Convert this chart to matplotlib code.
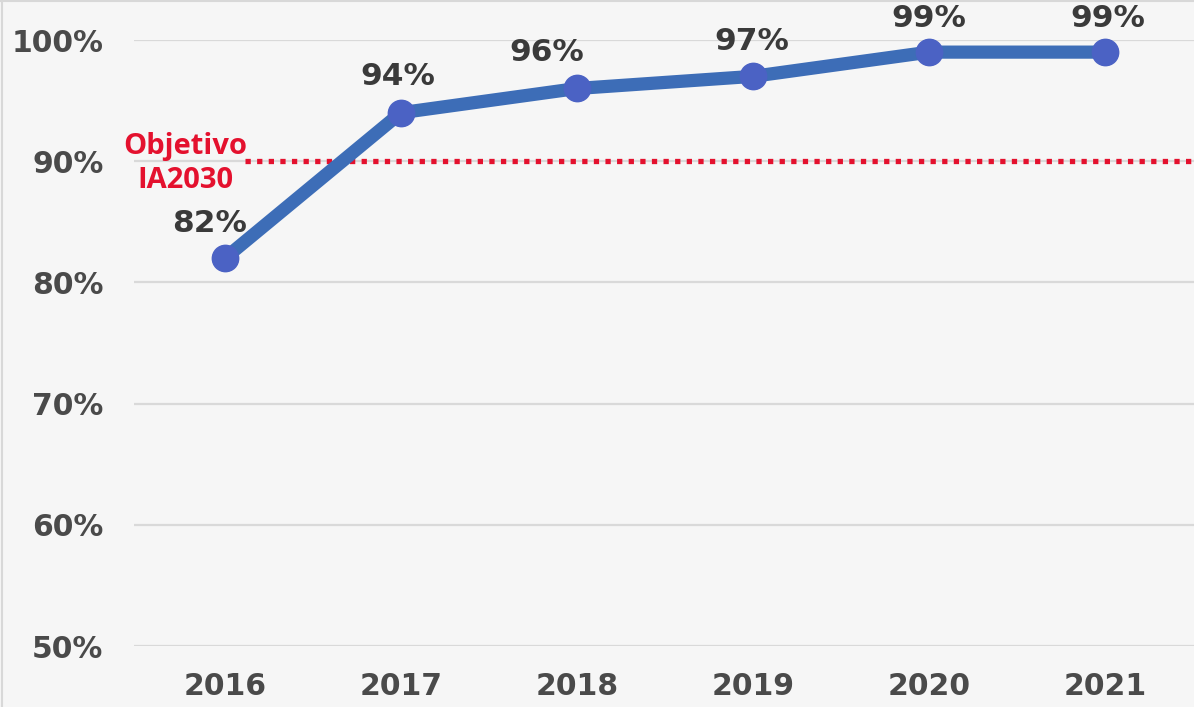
import matplotlib.pyplot as plt
from matplotlib.lines import Line2D

years = ["2016", "2017", "2018", "2019", "2020", "2021"]
values = [82, 94, 96, 97, 99, 99]
target = 90
target_label = "Objetivo\nIA2030"
yticks = [50, 60, 70, 80, 90, 100]

# label offsets in points (dx, dy) so labels sit like the original
label_offsets = [(-11, 25), (-2, 26), (-22, 26), (-1, 25), (0, 24), (2, 24)]

bg = "#f6f6f6"
fig = plt.figure(figsize=(11.94, 7.07), dpi=100, facecolor=bg)
ax = fig.add_axes([134 / 1194, 61 / 707, 1060 / 1194, 606 / 707])
ax.set_facecolor(bg)

x = list(range(len(years)))
ax.plot(x, values, color="#3d6db7", lw=9.5, solid_capstyle="round", zorder=3,
        clip_on=False)
ax.plot(x, values, "o", ms=19, color="#4b62c4", zorder=4, clip_on=False)

for xi, v, (dx, dy) in zip(x, values, label_offsets):
    ax.annotate(f"{v}%", (xi, v), xytext=(dx, dy), textcoords="offset points",
                ha="center", va="center", fontsize=22.5, fontweight="bold",
                color="#3a3a3a")

# target line
ax.plot([0.114, 5.51], [target, target], color="#e4112e", lw=3.8,
        linestyle=(0, (1, 1.2)), clip_on=False, zorder=2)
ax.text(-0.227, target - 0.2, target_label, ha="center", va="center",
        fontsize=21, fontweight="bold", color="#e4112e",
        family="Open Sans", linespacing=1.22)

ax.set_xlim(-0.517, 5.506)
ax.set_ylim(50, 100)
ax.set_yticks(yticks)
ax.set_yticklabels([f"{t}%" for t in yticks])
ax.set_xticks(x)
ax.set_xticklabels(years)
ax.grid(axis="y", color="#d9d9d9", lw=1.6)
ax.set_axisbelow(True)
for s in ax.spines.values():
    s.set_visible(False)
ax.tick_params(length=0, labelsize=21.5, labelcolor="#4a4a4a")
ax.tick_params(axis="y", pad=22)
ax.tick_params(axis="x", pad=19)
for lab in ax.get_xticklabels() + ax.get_yticklabels():
    lab.set_fontweight("bold")

# thin frame on top and left
fig.add_artist(Line2D([0, 1], [0.998, 0.998], color="#d8d8d8", lw=1.5,
                      transform=fig.transFigure))
fig.add_artist(Line2D([0.002, 0.002], [0, 1], color="#d8d8d8", lw=1.5,
                      transform=fig.transFigure))

fig.savefig("out.png", dpi=100, facecolor=bg)
